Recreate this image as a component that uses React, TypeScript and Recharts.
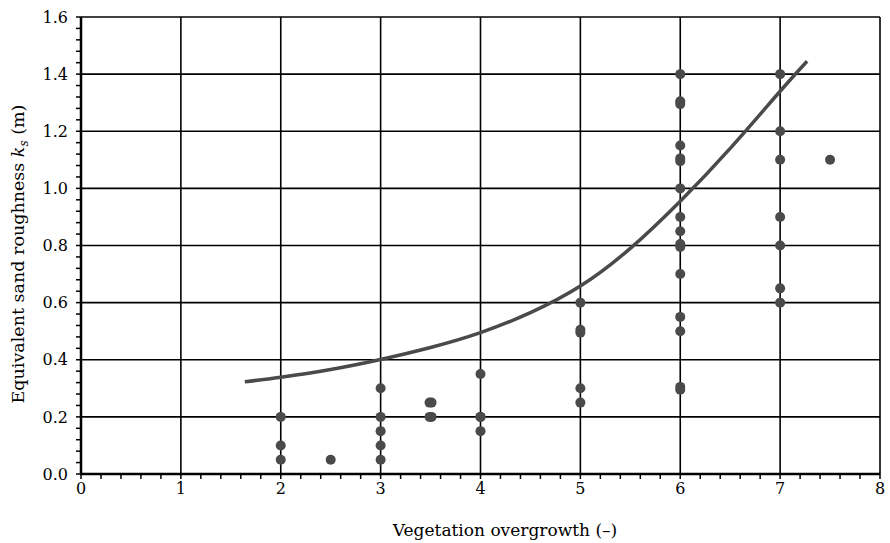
import { ComposedChart, Scatter, Line, XAxis, YAxis, ReferenceLine } from "recharts";

// observations: vegetation overgrowth class vs equivalent sand roughness ks (m)
const obsX = [
  2, 2, 2,
  2.5,
  3, 3, 3, 3, 3,
  3.49, 3.51, 3.49, 3.51,
  4, 4, 4, 4,
  5, 5, 5, 5, 5,
  6, 6, 6, 6, 6, 6, 6, 6, 6, 6, 6, 6, 6, 6, 6, 6,
  7, 7, 7, 7, 7, 7, 7,
  7.5,
];
const obsY = [
  0.2, 0.1, 0.05,
  0.05,
  0.3, 0.2, 0.15, 0.1, 0.05,
  0.25, 0.25, 0.2, 0.2,
  0.35, 0.2, 0.2, 0.15,
  0.6, 0.505, 0.495, 0.3, 0.25,
  1.4, 1.305, 1.295, 1.15, 1.105, 1.095, 1.0, 0.9, 0.85, 0.805, 0.795, 0.7, 0.55, 0.5, 0.305, 0.295,
  1.4, 1.2, 1.1, 0.9, 0.8, 0.65, 0.6,
  1.1,
];

// fitted curve
const curveX = [1.64, 2, 2.5, 3, 3.5, 4, 4.5, 5, 5.5, 6, 6.5, 7, 7.27];
const curveY = [0.323, 0.339, 0.366, 0.401, 0.443, 0.495, 0.565, 0.658, 0.79, 0.955, 1.14, 1.34, 1.445];

const xMajor = [0, 1, 2, 3, 4, 5, 6, 7, 8];
const yMajor = [0, 0.2, 0.4, 0.6, 0.8, 1.0, 1.2, 1.4, 1.6];

const xMinor = Array.from({ length: 41 }, (_, i) => +(i * 0.2).toFixed(1));
const yMinor = Array.from({ length: 41 }, (_, i) => +(i * 0.04).toFixed(2));

const obsData = obsX.map((x, i) => ({ x, y: obsY[i] }));
const curveData = curveX.map((x, i) => ({ x, y: curveY[i] }));

const FONT = "DejaVu Serif";
const GREY = "#4a4a4a";

const isMajor = (v: number, list: number[]) => list.some((m) => Math.abs(m - v) < 1e-6);

export default function App() {
  return (
    <div style={{ position: "absolute", left: 0, top: 0, background: "#fff" }}>
      <ComposedChart
        width={890}
        height={543}
        margin={{ top: 17, right: 10, bottom: 0, left: 0 }}
      >
        {xMajor.map((v) => (
          <ReferenceLine key={"gx" + v} x={v} stroke="#000" strokeWidth={1.6} />
        ))}
        {yMajor.map((v) => (
          <ReferenceLine key={"gy" + v} y={v} stroke="#000" strokeWidth={1.6} />
        ))}
        <XAxis
          type="number"
          dataKey="x"
          domain={[0, 8]}
          ticks={xMinor}
          interval={0}
          height={69}
          tickSize={5}
          tickMargin={4}
          axisLine={{ stroke: "#000", strokeWidth: 2.5 }}
          tickLine={{ stroke: "#000", strokeWidth: 1.5 }}
          tick={{ fill: "#000", fontSize: 16, fontFamily: FONT }}
          tickFormatter={(v: number) => (isMajor(v, xMajor) ? String(v) : "")}
        />
        <YAxis
          type="number"
          dataKey="y"
          domain={[0, 1.6]}
          ticks={yMinor}
          interval={0}
          width={81}
          tickSize={5}
          tickMargin={8}
          axisLine={{ stroke: "#000", strokeWidth: 2.5 }}
          tickLine={{ stroke: "#000", strokeWidth: 1.5 }}
          tick={{ fill: "#000", fontSize: 16, fontFamily: FONT }}
          tickFormatter={(v: number) => (isMajor(v, yMajor) ? v.toFixed(1) : "")}
        />
        <Scatter
          data={obsData}
          dataKey="y"
          isAnimationActive={false}
          shape={(p: any) => <circle cx={p.cx} cy={p.cy} r={5} fill={GREY} />}
        />
        <Line
          data={curveData}
          dataKey="y"
          type="natural"
          dot={false}
          activeDot={false}
          stroke={GREY}
          strokeWidth={3.5}
          isAnimationActive={false}
        />
        <text
          x={505}
          y={536}
          textAnchor="middle"
          fontFamily={FONT}
          fontSize={17}
          fill="#000"
        >
          Vegetation overgrowth (–)
        </text>
        <text
          transform="translate(24,254) rotate(-90)"
          textAnchor="middle"
          fontFamily={FONT}
          fontSize={17.5}
          fill="#000"
        >
          Equivalent sand roughness <tspan fontStyle="italic">k</tspan>
          <tspan fontSize={12} fontStyle="italic" dy={4}>s</tspan>
          <tspan dy={-4}> (m)</tspan>
        </text>
      </ComposedChart>
    </div>
  );
}
